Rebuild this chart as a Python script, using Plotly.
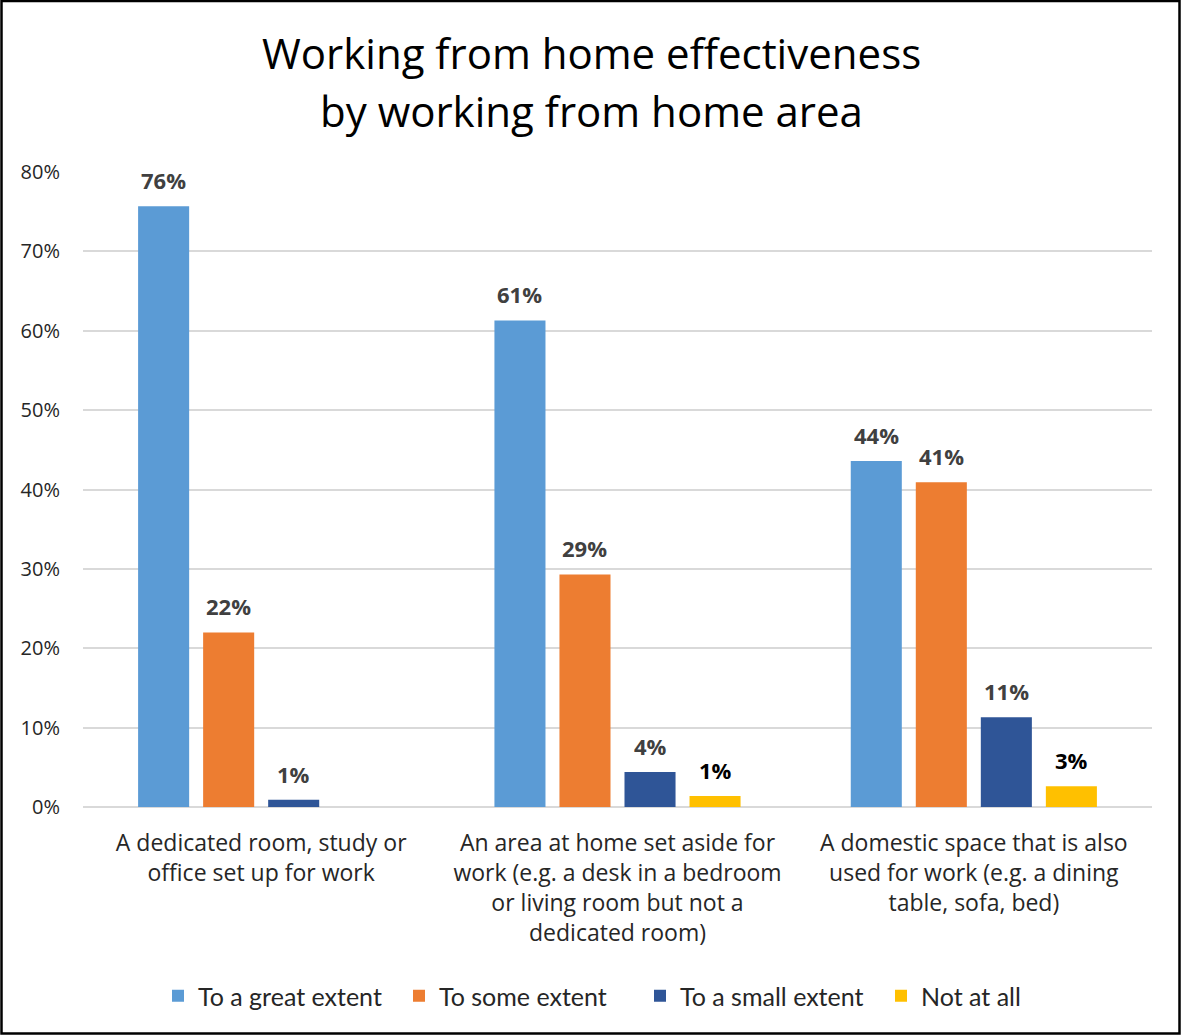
import plotly.graph_objects as go

# Survey results: share of respondents by working-from-home area
categories = [
    "A dedicated room, study or<br>office set up for work",
    "An area at home set aside for<br>work (e.g. a desk in a bedroom<br>or living room but not a<br>dedicated room)",
    "A domestic space that is also<br>used for work (e.g. a dining<br>table, sofa, bed)",
]
great_extent = [0.757, 0.613, 0.436]
some_extent = [0.220, 0.293, 0.409]
small_extent = [0.009, 0.044, 0.113]
not_at_all = [None, 0.014, 0.026]

series = [
    ("To a great extent", great_extent, "#5b9bd5", "#404040"),
    ("To some extent", some_extent, "#ed7d31", "#404040"),
    ("To a small extent", small_extent, "#2f5597", "#404040"),
    ("Not at all", not_at_all, "#ffc000", "#000000"),
]

W, H = 1181, 1035
ML, MR, MT, MB = 83, 29, 172, 228
BARGAP = 0.27
BARGROUPGAP = 0.215

plot_w = W - ML - MR
plot_h = H - MT - MB


def px_x(p):
    return (p - ML) / plot_w


def px_y(p):
    return (H - MB - p) / plot_h


fig = go.Figure()
for name, vals, color, _ in series:
    fig.add_trace(go.Bar(
        name=name,
        x=categories,
        y=vals,
        marker=dict(color=color, line=dict(width=0)),
    ))

# Value labels above each bar, shifted sideways to the bar's slot in its group
cat_w = plot_w / len(categories)
slot_w = cat_w * (1 - BARGAP) / len(series)
annotations = []
for i, (name, vals, color, label_color) in enumerate(series):
    shift = (i - (len(series) - 1) / 2) * slot_w
    for cat, v in zip(categories, vals):
        if v is None:
            continue
        annotations.append(dict(
            x=cat, y=v, xref="x", yref="y",
            text=f"{v:.0%}", showarrow=False,
            xshift=shift, yshift=26, xanchor="center", yanchor="middle",
            font=dict(family="Open Sans", size=22, color=label_color, weight="bold"),
        ))

annotations += [
    dict(text="Working from home effectiveness", xref="paper", yref="paper",
         x=px_x(591), y=px_y(53), xanchor="center", yanchor="middle",
         showarrow=False, font=dict(family="Open Sans", size=42, color="black")),
    dict(text="by working from home area", xref="paper", yref="paper",
         x=px_x(591), y=px_y(111), xanchor="center", yanchor="middle",
         showarrow=False, font=dict(family="Open Sans", size=42, color="black")),
]

fig.update_layout(
    width=W,
    height=H,
    margin=dict(l=ML, r=MR, t=MT, b=MB, autoexpand=False),
    paper_bgcolor="white",
    plot_bgcolor="white",
    barmode="group",
    bargap=BARGAP,
    bargroupgap=BARGROUPGAP,
    font=dict(family="Open Sans", color="#404040"),
    showlegend=True,
    legend=dict(
        orientation="h",
        x=px_x(158), xanchor="left",
        y=px_y(996), yanchor="middle",
        font=dict(family="Lato", size=25, color="#262626"),
        bgcolor="rgba(0,0,0,0)",
        itemwidth=30,
        entrywidth=196,
        traceorder="normal",
    ),
    xaxis=dict(
        showgrid=False,
        showline=False,
        ticks="",
        tickfont=dict(family="Open Sans", size=23, color="#262626"),
        ticklabelstandoff=20,
    ),
    yaxis=dict(
        range=[0, 0.8],
        dtick=0.1,
        tickformat=".0%",
        showgrid=True,
        gridcolor="#d9d9d9",
        gridwidth=1.5,
        zeroline=True,
        zerolinecolor="#d9d9d9",
        zerolinewidth=1.5,
        showline=False,
        ticks="",
        tickfont=dict(family="Open Sans", size=20, color="#262626"),
        ticklabelstandoff=22,
    ),
    annotations=annotations,
    shapes=[
        dict(type="rect", xref="paper", yref="paper",
             x0=px_x(1.5), x1=px_x(1179.5), y0=px_y(1033.5), y1=px_y(1),
             line=dict(color="black", width=2.5), fillcolor="rgba(0,0,0,0)"),
    ],
)

fig.write_html("out.html")
